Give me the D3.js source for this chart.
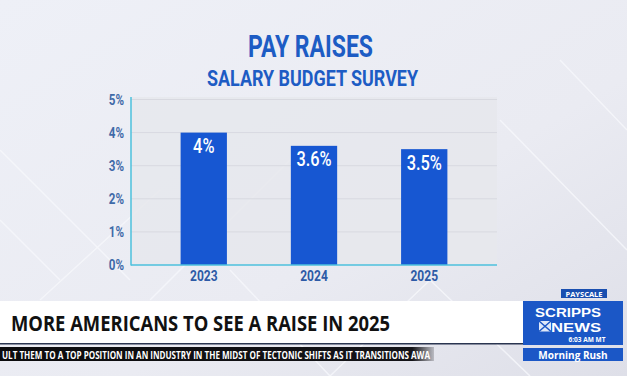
<!DOCTYPE html>
<html><head><meta charset="utf-8">
<script src="https://cdn.jsdelivr.net/npm/d3@7"></script>
<style>
html,body{margin:0;padding:0;background:#e9eaf1;overflow:hidden;}
svg{display:block;}
</style></head>
<body>
<svg id="c" width="627" height="376"></svg>
<script>
const years = ["2023", "2024", "2025"];
const raises = [4, 3.6, 3.5];
const valueLabels = ["4%", "3.6%", "3.5%"];
const yTicks = [0, 1, 2, 3, 4, 5];
const yTickLabels = ["0%", "1%", "2%", "3%", "4%", "5%"];
const chartTitle = "PAY RAISES";
const chartSubtitle = "SALARY BUDGET SURVEY";
const headline = "MORE AMERICANS TO SEE A RAISE IN 2025";
const ticker = "ULT THEM TO A TOP POSITION IN AN INDUSTRY IN THE MIDST OF TECTONIC SHIFTS AS IT TRANSITIONS AWA";

const cond = "Roboto,'Noto Sans',sans-serif";
const svg = d3.select("#c");

// background
const defs = svg.append("defs");
const bg = defs.append("linearGradient").attr("id","bg").attr("x1",0).attr("y1",0).attr("x2",1).attr("y2",1);
bg.append("stop").attr("offset","0").attr("stop-color","#eef0f7");
bg.append("stop").attr("offset","0.6").attr("stop-color","#eaebf2");
bg.append("stop").attr("offset","1").attr("stop-color","#dedfe8");
svg.append("rect").attr("width",627).attr("height",376).attr("fill","url(#bg)");
// faint geometric pattern
const geo = [[0,150,130,280],[40,300,160,190],[150,300,290,160],[230,270,330,376],[330,376,430,280],[430,280,530,376],[500,120,627,250],[560,60,627,130],[0,220,60,280]];
svg.append("g").selectAll("line").data(geo).join("line")
  .attr("x1",d=>d[0]).attr("y1",d=>d[1]).attr("x2",d=>d[2]).attr("y2",d=>d[3])
  .attr("stroke","#f7f8fc").attr("stroke-width",1.5).attr("opacity",0.8);

const margin = {left:131, right:497, top:97, bottom:265};
const x = d3.scaleBand().domain(years).range([margin.left, margin.right]).paddingInner(0.58).paddingOuter(0.45);
const y = d3.scaleLinear().domain([0,5]).range([margin.bottom, 99.5]);

// plot background
svg.append("rect").attr("x",margin.left).attr("y",margin.top)
  .attr("width",margin.right-margin.left).attr("height",margin.bottom-margin.top)
  .attr("fill","#e6e7ec").attr("opacity",0.85);

// gridlines
svg.append("g").selectAll("line").data(yTicks.slice(1)).join("line")
  .attr("x1",margin.left).attr("x2",margin.right)
  .attr("y1",d=>y(d)).attr("y2",d=>y(d))
  .attr("stroke","#d8d9e0").attr("stroke-width",1);

// titles
svg.append("text").attr("x",248).attr("y",57)
  .attr("font-family",cond).attr("font-weight","bold").attr("font-size",31)
  .attr("fill","#1d5cc4").attr("textLength",125).attr("lengthAdjust","spacingAndGlyphs").text(chartTitle);
svg.append("text").attr("x",207).attr("y",86)
  .attr("font-family",cond).attr("font-weight","bold").attr("font-size",22)
  .attr("fill","#1d5cc4").attr("textLength",211).attr("lengthAdjust","spacingAndGlyphs").text(chartSubtitle);

// bars
svg.append("g").selectAll("rect").data(raises).join("rect")
  .attr("x",(d,i)=>x(years[i])).attr("width",x.bandwidth())
  .attr("y",d=>y(d)).attr("height",d=>y(0)-y(d))
  .attr("fill","#1757d2");

// value labels (condensed by horizontal scaling)
svg.append("g").selectAll("text").data(raises).join("text")
  .attr("transform",(d,i)=>`translate(${x(years[i])+x.bandwidth()/2},${y(d)+20.5}) scale(0.82,1)`)
  .attr("text-anchor","middle").attr("font-family",cond).attr("font-weight",500).attr("font-size",20)
  .attr("fill","#ffffff").text((d,i)=>valueLabels[i]);

// y axis
const yAxis = d3.axisLeft(y).tickValues(yTicks).tickSize(0).tickPadding(0)
  .tickFormat((d,i)=>yTickLabels[i]);
const ya = svg.append("g").attr("transform",`translate(${margin.left-7},0)`).call(yAxis);
ya.select(".domain").remove();
ya.selectAll("text").attr("font-family",cond).attr("font-weight","bold").attr("font-size",14.5)
  .attr("fill","#3f6aa8").attr("transform","scale(0.8,1)");

// axis lines (cyan)
svg.append("line").attr("x1",margin.left).attr("x2",margin.left).attr("y1",margin.top).attr("y2",margin.bottom+0.5)
  .attr("stroke","#4cc0dd").attr("stroke-width",1.5);
svg.append("line").attr("x1",margin.left).attr("x2",margin.right).attr("y1",margin.bottom).attr("y2",margin.bottom)
  .attr("stroke","#4cc0dd").attr("stroke-width",1.5);

// x axis
const xAxis = d3.axisBottom(x).tickSize(0).tickPadding(5);
const xa = svg.append("g").attr("transform",`translate(0,${margin.bottom})`).call(xAxis);
xa.select(".domain").remove();
xa.selectAll("text").attr("font-family",cond).attr("font-weight","bold").attr("font-size",15)
  .attr("fill","#2d5aa6").attr("transform","scale(0.8,1)");

// lower third
svg.append("rect").attr("x",0).attr("y",301).attr("width",523).attr("height",42).attr("fill","#ffffff");
svg.append("rect").attr("x",0).attr("y",343).attr("width",523).attr("height",1.5).attr("fill","#2a3550");
svg.append("text").attr("x",11).attr("y",331).attr("font-family","'Open Sans','Noto Sans',sans-serif")
  .attr("font-weight","bold").attr("font-size",22).attr("fill","#111111")
  .attr("textLength",379).attr("lengthAdjust","spacingAndGlyphs").text(headline);

// ticker
const tg = defs.append("linearGradient").attr("id","tk").attr("x1",0).attr("x2",1);
tg.append("stop").attr("offset","0").attr("stop-color","#0b0b0d");
tg.append("stop").attr("offset","0.95").attr("stop-color","#141418");
tg.append("stop").attr("offset","1").attr("stop-color","#141418").attr("stop-opacity",0.2);
svg.append("rect").attr("x",0).attr("y",347).attr("width",434).attr("height",14).attr("fill","url(#tk)");
svg.append("text").attr("x",2).attr("y",358.5).attr("font-family","'Open Sans','Noto Sans',sans-serif")
  .attr("font-weight","bold").attr("font-size",10).attr("fill","#ffffff")
  .attr("textLength",428).attr("lengthAdjust","spacingAndGlyphs").text(ticker);

// logo block
const logoFont = "'Liberation Sans',Arial,sans-serif";
svg.append("rect").attr("x",561).attr("y",289).attr("width",46).attr("height",9).attr("fill","#1a4fb0");
svg.append("text").attr("x",584).attr("y",296.5).attr("text-anchor","middle").attr("font-family","'Open Sans',sans-serif")
  .attr("font-weight","bold").attr("font-size",7.5).attr("fill","#ffffff").text("PAYSCALE");
svg.append("rect").attr("x",523).attr("y",301).attr("width",100).attr("height",44).attr("fill","#1b57c6");
svg.append("text").attr("x",568).attr("y",316.5).attr("text-anchor","middle").attr("font-family",logoFont)
  .attr("font-weight","bold").attr("font-size",13).attr("fill","#ffffff")
  .attr("textLength",66).attr("lengthAdjust","spacingAndGlyphs").text("SCRIPPS");
svg.append("text").attr("x",576).attr("y",331.5).attr("text-anchor","middle").attr("font-family",logoFont)
  .attr("font-weight","bold").attr("font-size",13).attr("fill","#ffffff")
  .attr("textLength",50).attr("lengthAdjust","spacingAndGlyphs").text("NEWS");
// small logo mark
svg.append("rect").attr("x",539).attr("y",321).attr("width",12).attr("height",10.5).attr("fill","#dfe8f8");
svg.append("path").attr("d","M539,321 L551,331.5 M551,321 L539,331.5").attr("stroke","#1b57c6").attr("stroke-width",1.5);
svg.append("text").attr("x",587).attr("y",341.5).attr("text-anchor","middle").attr("font-family","'Open Sans',sans-serif")
  .attr("font-weight","bold").attr("font-size",6.5).attr("fill","#ffffff").text("6:03 AM MT");
svg.append("rect").attr("x",523).attr("y",348).attr("width",100).attr("height",13).attr("fill","#1b57c6");
svg.append("text").attr("x",573).attr("y",358.5).attr("text-anchor","middle").attr("font-family","'Open Sans',sans-serif")
  .attr("font-weight","bold").attr("font-size",10).attr("fill","#ffffff").text("Morning Rush");
</script>
</body></html>
